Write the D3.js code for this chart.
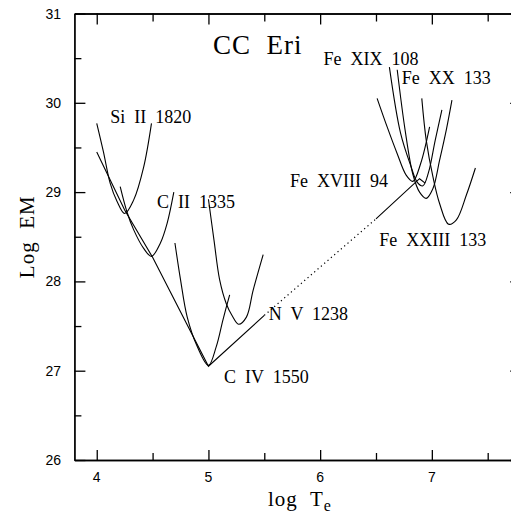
<!DOCTYPE html>
<html>
<head>
<meta charset="utf-8">
<script src="https://cdn.jsdelivr.net/npm/d3@7"></script>
<style>
	body { margin: 0; background: #fff; }
	svg text { fill: #000; }
	.locus { fill: none; stroke: #000; stroke-width: 1.1; }
	.em-line { fill: none; stroke: #000; stroke-width: 1.1; }
	.em-dotted { fill: none; stroke: #000; stroke-width: 1.2; stroke-dasharray: 1.2,3.2; }
	.axis path, .axis line { stroke: #000; stroke-width: 1.3; }
	.label { font-family: "Liberation Serif", "DejaVu Serif", serif; font-size: 18px; white-space: pre; }
	.tick-label { font-family: "Liberation Sans", Arial, sans-serif; font-size: 14px; }
</style>
</head>
<body>
<svg id="chart" width="511" height="518"></svg>
<script>
// emission measure loci, [log Te, log EM]
const siII1820 = [[4.00, 29.77], [4.06, 29.45], [4.12, 29.10], [4.18, 28.90], [4.25, 28.76], [4.33, 28.91], [4.42, 29.28], [4.49, 29.77]];
const cII1335 = [[4.21, 29.06], [4.27, 28.78], [4.33, 28.58], [4.42, 28.37], [4.49, 28.28], [4.57, 28.43], [4.63, 28.65], [4.69, 29.00]];
const cIV1550 = [[4.70, 28.43], [4.75, 28.02], [4.81, 27.60], [4.90, 27.27], [5.00, 27.06], [5.07, 27.27], [5.13, 27.57], [5.19, 27.85]];
const nV1238 = [[5.00, 28.92], [5.05, 28.46], [5.10, 28.02], [5.16, 27.75], [5.21, 27.62], [5.27, 27.52], [5.34, 27.60], [5.40, 27.90], [5.49, 28.30]];
const feXVIII94 = [[6.51, 30.05], [6.60, 29.73], [6.69, 29.43], [6.77, 29.19], [6.83, 29.12], [6.90, 29.32], [6.98, 29.73]];
const feXIX108 = [[6.62, 30.40], [6.72, 29.66], [6.81, 29.30], [6.87, 29.11], [6.92, 29.07], [6.97, 29.22], [7.03, 29.58], [7.09, 29.92]];
const feXX133 = [[6.69, 30.37], [6.76, 29.70], [6.83, 29.20], [6.89, 29.00], [6.95, 28.93], [7.01, 29.04], [7.07, 29.36], [7.13, 29.70], [7.18, 30.03]];
const feXXIII133 = [[6.91, 30.05], [6.95, 29.58], [7.01, 29.17], [7.07, 28.87], [7.15, 28.64], [7.22, 28.69], [7.31, 28.97], [7.39, 29.27]];

// derived emission measure distribution
const emCool = [[4.00, 29.45], [4.25, 28.80], [4.50, 28.27], [5.00, 27.05], [5.50, 27.62]];
const emGap = [[5.50, 27.62], [6.50, 28.70]];
const emHot = [[6.50, 28.70], [6.89, 29.15], [6.94, 29.10]];

const lineLabels = [
	{text: "Si  II  1820", t: 4.12, em: 29.77},
	{text: "C  II  1335", t: 4.54, em: 28.82},
	{text: "C  IV  1550", t: 5.14, em: 26.86},
	{text: "N  V  1238", t: 5.54, em: 27.57},
	{text: "Fe  XIX  108", t: 6.03, em: 30.42},
	{text: "Fe  XX  133", t: 6.73, em: 30.21},
	{text: "Fe  XVIII  94", t: 5.73, em: 29.06},
	{text: "Fe  XXIII  133", t: 6.53, em: 28.40}
];

const xMajor = [4, 5, 6, 7];
const xMinor = [4.5, 5.5, 6.5, 7.5];
const yMajor = [26, 27, 28, 29, 30, 31];
const yMinor = [26.5, 27.5, 28.5, 29.5, 30.5];

const svg = d3.select("#chart");
const x = d3.scaleLinear().domain([3.8, 7.8]).range([74.4, 521.2]);
const y = d3.scaleLinear().domain([26, 31]).range([460, 13.5]);

const line = d3.line().x(d => x(d[0])).y(d => y(d[1]));
const smooth = d3.line().x(d => x(d[0])).y(d => y(d[1])).curve(d3.curveCatmullRom.alpha(0.5));

// frame with inward ticks
function drawAxis(axisFn, transform, values, size) {
	svg.append("g")
		.attr("class", "axis")
		.attr("transform", transform)
		.call(axisFn.tickValues(values).tickSizeInner(size).tickSizeOuter(0).tickFormat(""))
		.call(g => g.selectAll("text").remove());
}
drawAxis(d3.axisBottom(x), `translate(0,${y(26)})`, xMajor, -10);
drawAxis(d3.axisBottom(x), `translate(0,${y(26)})`, xMinor, -7);
drawAxis(d3.axisTop(x), `translate(0,${y(31)})`, xMajor, -11);
drawAxis(d3.axisTop(x), `translate(0,${y(31)})`, xMinor, -8);
drawAxis(d3.axisLeft(y), `translate(${x(3.8)},0)`, yMajor, -11);
drawAxis(d3.axisLeft(y), `translate(${x(3.8)},0)`, yMinor, -7);
drawAxis(d3.axisRight(y), `translate(${x(7.8)},0)`, yMajor, -11);
drawAxis(d3.axisRight(y), `translate(${x(7.8)},0)`, yMinor, -7);

svg.append("g").selectAll("text")
	.data(xMajor)
	.join("text")
	.attr("class", "tick-label")
	.attr("x", d => x(d))
	.attr("y", 482)
	.attr("text-anchor", "middle")
	.text(d => d);

svg.append("g").selectAll("text")
	.data(yMajor)
	.join("text")
	.attr("class", "tick-label")
	.attr("x", 61)
	.attr("y", d => y(d) + 5)
	.attr("text-anchor", "end")
	.text(d => d);

// loci curves
const loci = [siII1820, cII1335, cIV1550, nV1238, feXVIII94, feXIX108, feXX133, feXXIII133];
svg.append("g").selectAll("path")
	.data(loci)
	.join("path")
	.attr("class", "locus")
	.attr("d", smooth);

svg.append("path").attr("class", "em-line").attr("d", line(emCool));
svg.append("path").attr("class", "em-dotted").attr("d", line(emGap));
svg.append("path").attr("class", "em-line").attr("d", line(emHot));

svg.append("g").selectAll("text")
	.data(lineLabels)
	.join("text")
	.attr("class", "label")
	.attr("x", d => x(d.t))
	.attr("y", d => y(d.em))
	.text(d => d.text);

// titles
svg.append("text")
	.attr("class", "label")
	.attr("x", 213)
	.attr("y", 54)
	.style("font-size", "27px")
	.style("letter-spacing", "1px")
	.text("CC  Eri");

const xTitle = svg.append("text")
	.attr("class", "label")
	.attr("x", 268)
	.attr("y", 506)
	.style("font-size", "21px")
	.style("letter-spacing", "1px");
xTitle.append("tspan").text("log  T");
xTitle.append("tspan").attr("dy", 5).style("font-size", "16px").text("e");

svg.append("text")
	.attr("class", "label")
	.attr("transform", `translate(34,${y(28.5)}) rotate(-90)`)
	.attr("text-anchor", "middle")
	.style("font-size", "21px")
	.style("letter-spacing", "1px")
	.text("Log  EM");
</script>
</body>
</html>
